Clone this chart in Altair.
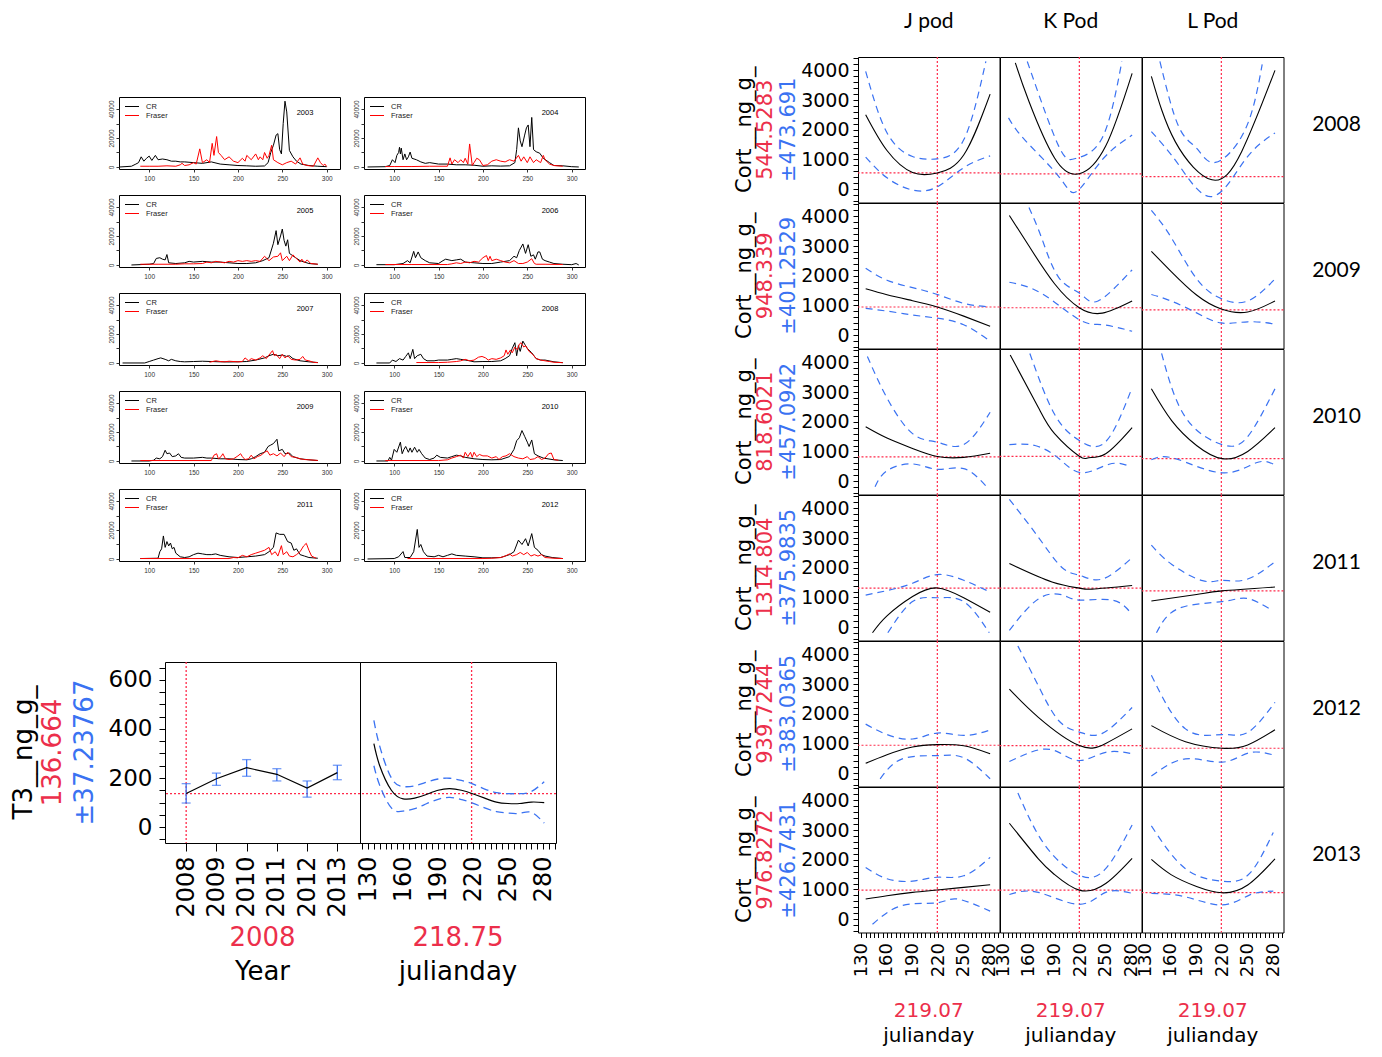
import altair as alt
import pandas as pd

RED = "#ec2f4b"
BLUE = "#3a72f2"
RED_LINE = "#ff2a4a"
FONT = "DejaVu Sans"
RFONT = "Liberation Sans"
HFONT = "Lato"

# ---------------- top-left: daily counts (CR vs Fraser) ----------------
TS_YEARS = [2003, 2004, 2005, 2006, 2007, 2008, 2009, 2010, 2011, 2012]
TS_XTICKS = [100, 150, 200, 250, 300]
TS_YTICKS = [0, 10000, 20000, 30000, 40000]
TS_XDOM = [66, 315]
TS_YDOM = [-1400, 48300]

CR_2003 = [(67,0),(80,500),(85,2000),(88,3000),(91,7000),(94,4000),(97,6000),(100,7500),(103,4500),(107,8000),(110,5000),(115,5500),(120,5000),(125,4000),(130,4000),(135,3500),(140,3500),(150,3000),(160,2500),(170,3500),(180,2000),(190,1500),(200,1000),(210,800),(220,500),(230,700),(234,3000),(237,10000),(240,15000),(243,22000),(245,23000),(247,12000),(249,9000),(251,30000),(253,45400),(255,38000),(258,11400),(262,7000),(266,4000),(271,2000),(280,1000),(290,500),(300,200)]
FR_2003 = [(90,500),(100,500),(110,500),(120,800),(130,500),(135,1500),(137,2500),(140,1000),(145,1500),(150,3000),(153,2000),(157,12500),(160,3000),(165,5000),(168,3000),(171,16300),(173,8000),(176,21000),(178,10000),(181,8000),(185,5000),(190,7000),(195,4000),(200,3000),(205,6000),(208,4000),(210,8000),(215,5000),(220,9000),(223,5000),(225,7000),(228,5000),(230,10000),(233,6000),(235,8000),(238,15000),(240,5000),(245,3000),(250,1500),(255,3000),(260,4000),(265,2000),(270,6300),(273,2000),(278,1000),(285,500),(290,6300),(293,3000),(296,1000),(298,2000),(300,300)]
CR_2004 = [(70,0),(90,200),(95,1000),(98,5000),(101,3000),(103,8000),(105,10000),(106,13600),(107,9000),(108,13000),(110,5000),(112,9000),(114,5000),(116,7000),(118,10300),(120,6000),(125,5000),(130,3500),(135,2500),(140,3000),(150,2000),(160,2000),(170,1500),(180,1500),(190,1200),(200,500),(210,800),(220,600),(230,800),(236,3000),(238,12000),(240,27000),(242,18000),(244,14000),(247,22000),(249,27000),(251,29000),(253,14000),(255,34200),(257,12000),(260,10500),(264,9500),(268,6000),(275,3000),(280,1000),(290,800),(300,200),(308,0)]
FR_2004 = [(90,300),(100,300),(120,300),(140,500),(160,500),(163,6300),(165,2000),(168,5000),(172,3000),(175,5000),(178,3000),(180,6000),(183,2000),(185,15900),(188,1000),(190,3000),(193,6000),(196,5000),(200,1000),(205,1500),(210,4000),(215,5000),(220,4000),(225,3500),(230,5000),(235,4000),(240,8000),(243,4000),(246,7000),(250,3000),(253,7000),(257,3000),(260,5000),(265,3000),(268,8000),(270,5000),(275,2000),(280,1000),(290,500)]
CR_2005 = [(80,0),(100,500),(105,1000),(108,4500),(112,5000),(115,4000),(118,3500),(120,7200),(122,1500),(130,1000),(140,1500),(145,2500),(150,2000),(160,2500),(170,2000),(180,2000),(190,1500),(200,1000),(210,1000),(220,1500),(228,3000),(235,5000),(240,15000),(243,23700),(245,14000),(248,20000),(250,24800),(252,17000),(254,13000),(256,17400),(258,8000),(265,5000),(270,3000),(280,1000),(290,500)]
FR_2005 = [(90,500),(110,500),(130,500),(140,800),(150,800),(160,1000),(165,2000),(170,1500),(175,2500),(180,2000),(185,1500),(190,2500),(195,2000),(200,3000),(205,2500),(210,3000),(215,2500),(220,3000),(225,2500),(230,6000),(235,3000),(240,5500),(245,6000),(248,8400),(250,3000),(255,6000),(258,3000),(262,7000),(265,5000),(270,2000),(272,4000),(275,1500),(278,3500),(282,1000),(290,500)]
CR_2006 = [(80,200),(100,200),(110,1000),(115,3000),(118,1500),(122,9400),(124,5000),(127,9000),(130,5000),(135,3000),(140,1500),(150,1000),(155,3000),(158,4000),(165,3000),(170,3500),(175,4000),(180,2000),(190,1500),(200,1000),(210,1000),(220,2000),(230,3000),(235,6000),(238,5000),(241,10000),(245,14500),(248,8000),(251,14000),(254,6000),(257,7000),(259,4000),(262,9000),(264,9000),(267,4000),(270,3000),(275,2000),(280,1000),(290,500),(300,200),(305,1000),(308,0)]
FR_2006 = [(90,300),(120,300),(160,300),(165,800),(170,1500),(175,1000),(180,2000),(185,1500),(190,2500),(195,2000),(200,5000),(204,6500),(206,3000),(208,6000),(210,3000),(215,4000),(220,3000),(225,2000),(230,1500),(235,3000),(240,1000),(245,1000),(250,2000),(255,4300),(258,1000),(260,500),(270,500),(290,300)]
CR_2007 = [(70,0),(95,0),(100,1000),(105,2000),(110,3000),(113,3500),(118,2500),(122,1500),(125,2500),(130,1500),(135,1000),(140,800),(150,1000),(160,1200),(170,1000),(180,800),(190,700),(200,800),(210,1000),(220,2000),(230,3500),(235,5000),(240,6000),(245,5000),(250,5500),(255,4500),(258,5000),(262,3000),(270,1500),(280,800),(290,300)]
FR_2007 = [(168,500),(175,1500),(180,1000),(185,800),(190,1200),(200,800),(205,1000),(208,3500),(212,1500),(215,3000),(220,2000),(225,3500),(228,5000),(232,3000),(235,5500),(239,8500),(241,5000),(243,6000),(247,3000),(250,6000),(253,3500),(256,5000),(260,2500),(265,2000),(270,2500),(273,4500),(276,2000),(280,1500),(285,500),(290,200)]
CR_2008 = [(80,0),(95,0),(98,2000),(102,1000),(106,3000),(110,2000),(113,4500),(116,7000),(118,3000),(121,9400),(123,3000),(126,5000),(130,6000),(133,3000),(137,1500),(145,1500),(150,2000),(160,2000),(165,2500),(170,3000),(175,2500),(180,2000),(185,1500),(190,800),(200,1000),(210,1000),(220,1500),(225,3000),(230,5000),(233,10000),(236,14000),(238,5000),(240,12000),(242,8000),(245,15100),(247,13000),(250,10000),(255,7000),(260,3000),(265,2000),(270,2000),(280,800),(290,200)]
FR_2008 = [(125,300),(150,300),(160,500),(170,1000),(175,1500),(180,2500),(185,1500),(190,2000),(195,4000),(199,4500),(203,3500),(206,2000),(210,3000),(215,2500),(220,3500),(224,5000),(226,9000),(228,6000),(231,9000),(233,7000),(236,11000),(239,9000),(241,13000),(243,14000),(246,11000),(248,12000),(252,8000),(256,6000),(260,3000),(265,2000),(270,1500),(275,1000),(280,500),(290,200)]
CR_2009 = [(80,0),(100,0),(105,500),(108,2000),(112,1500),(115,3000),(118,7400),(120,5000),(123,5500),(126,3000),(130,3500),(133,5000),(136,2500),(140,2000),(150,2000),(160,2500),(165,2000),(170,2000),(180,1500),(190,1500),(200,1000),(210,800),(215,1500),(220,3000),(225,5000),(230,6000),(234,10000),(237,11000),(240,12000),(244,15000),(246,7000),(250,8000),(253,5000),(258,5500),(262,3000),(270,1500),(280,800),(290,300)]
FR_2009 = [(90,300),(170,300),(173,4000),(176,5000),(178,1500),(181,3000),(183,5000),(186,1500),(190,1000),(195,1500),(200,3500),(203,5000),(205,3000),(208,1000),(212,1500),(215,4000),(218,1500),(222,3000),(226,4000),(230,6000),(233,7000),(236,4000),(240,5000),(244,3500),(248,5500),(252,3000),(256,6000),(260,3000),(265,2500),(270,1500),(275,1000),(280,800),(290,400)]
CR_2010 = [(80,0),(93,0),(95,2500),(97,500),(100,8000),(103,6000),(107,13000),(109,5000),(111,8000),(113,10000),(116,6000),(118,9000),(120,6000),(123,9500),(126,6000),(128,8000),(131,5000),(135,2000),(140,1000),(145,2000),(148,4000),(152,2500),(160,2000),(165,3000),(170,4000),(175,3500),(180,2500),(190,1500),(200,1000),(210,800),(220,1000),(225,2000),(230,3000),(235,8000),(238,14000),(241,16000),(244,21000),(247,17000),(250,13000),(252,10000),(255,14500),(258,5000),(262,3500),(268,2000),(280,800),(290,300)]
FR_2010 = [(90,300),(150,300),(160,800),(165,2000),(170,3000),(175,4000),(178,2000),(180,6000),(183,3000),(186,6000),(188,2500),(190,6000),(193,3000),(196,4500),(200,3500),(205,3500),(210,2000),(215,3000),(218,1000),(222,3000),(226,3500),(230,5000),(235,3000),(240,2000),(245,1500),(250,3000),(253,1000),(258,1500),(262,3000),(266,1000),(270,2000),(274,5000),(277,5500),(280,1000),(285,500)]
CR_2011 = [(90,300),(110,500),(112,5000),(114,7000),(116,15900),(118,8000),(120,12000),(122,9000),(124,11000),(126,7000),(128,8000),(130,4000),(135,1500),(140,1000),(145,1500),(150,3000),(155,4000),(160,3500),(165,3000),(170,3000),(175,3500),(180,2500),(190,1500),(200,1000),(210,1500),(220,2000),(230,3000),(235,5000),(240,8000),(243,18000),(247,17000),(252,17000),(256,12000),(260,11000),(263,6000),(266,7000),(270,3000),(275,2000),(280,1000),(290,500)]
FR_2011 = [(90,300),(190,300),(195,1000),(200,800),(205,2500),(210,1500),(215,3000),(220,4000),(225,5000),(230,6000),(235,8000),(238,3000),(242,5000),(245,2000),(249,9200),(251,3000),(255,5000),(258,2000),(262,1500),(266,3000),(270,5000),(274,9000),(277,10800),(280,6000),(283,2000),(288,500)]
CR_2012 = [(70,0),(100,300),(105,1500),(110,5100),(112,1000),(118,1000),(122,5000),(126,20400),(128,8000),(130,10000),(133,5000),(137,2000),(145,1500),(150,2500),(155,1500),(160,2500),(165,3500),(170,2500),(180,2000),(190,1500),(200,800),(210,800),(220,1000),(230,3000),(235,5000),(240,13000),(244,10000),(248,14000),(251,9000),(255,17500),(258,8000),(262,6000),(266,3000),(270,2000),(278,1000),(290,300)]
FR_2012 = [(115,300),(200,300),(210,500),(220,1000),(225,2000),(230,3500),(233,2000),(238,3000),(242,4500),(246,3000),(250,4500),(254,2000),(258,3000),(262,2000),(266,3000),(270,1000),(280,500),(290,300)]

CR_SERIES = [CR_2003, CR_2004, CR_2005, CR_2006, CR_2007, CR_2008, CR_2009, CR_2010, CR_2011, CR_2012]
FR_SERIES = [FR_2003, FR_2004, FR_2005, FR_2006, FR_2007, FR_2008, FR_2009, FR_2010, FR_2011, FR_2012]

# ---------------- bottom-left: T3 profiler ----------------
PROF_YEARS = [2008, 2009, 2010, 2011, 2012, 2013]
PROF_YEAR_MEAN = [136.664, 197, 242, 215, 159, 222]
PROF_YEAR_LO = [98, 170, 207, 188, 122, 193]
PROF_YEAR_HI = [177, 220, 275, 238, 188, 252]
PROF_DAYS = [135, 140, 150, 160, 170, 180, 190, 200, 210, 219, 230, 240, 250, 260, 270, 281]
PROF_MEAN = [340, 250, 150, 115, 118, 133, 150, 157, 150, 137, 118, 102, 96, 96, 102, 100]
PROF_UPPER = [435, 330, 200, 165, 168, 183, 196, 199, 190, 177, 155, 140, 136, 136, 145, 185]
PROF_LOWER = [250, 170, 78, 65, 75, 95, 113, 121, 112, 99, 78, 63, 57, 56, 60, 16]
PROF_HLINE = 136.664
PROF_YEAR_CUR = 2008
PROF_DAY_CUR = 218.75
PROF_YDOM = [-65, 673]
PROF_YEAR_XDOM = [2007.3, 2013.75]
PROF_DAY_XDOM = [123.1, 291.1]

# ---------------- right: Cort profiler grid (visible part of each curve) ----------------
PODS = ["J pod", "K Pod", "L Pod"]
GRID_YEARS = ["2008", "2009", "2010", "2011", "2012", "2013"]
ROW_MEAN_TXT = ["544.5283", "948.339", "818.6021", "1314.804", "939.7244", "976.8272"]
ROW_SE_TXT = ["±473.691", "±401.2529", "±457.0942", "±375.9835", "±383.0365", "±426.7431"]
GRID_DAY_CUR = 219.07
GRID_XDOM = [126, 292]
GRID_YDOM = [-450, 4450]

J_MEAN = [
    [(135,2506),(160,1300),(190,560),(219,545),(250,1150),(281,3200)],
    [(135,1560),(160,1360),(190,1160),(219,948),(250,640),(281,300)],
    [(135,1830),(160,1450),(190,1100),(219,830),(250,800),(281,940)],
    [(143,-190),(160,380),(190,1030),(219,1320),(250,990),(281,500)],
    [(135,330),(160,620),(190,880),(219,960),(250,920),(281,650)],
    [(135,680),(160,790),(190,900),(219,980),(250,1070),(281,1160)],
]
J_UPPER = [
    [(135,3966),(160,1900),(190,1100),(219,1020),(250,1660),(276,4300)],
    [(135,2250),(160,1850),(190,1600),(219,1370),(250,1070),(281,950)],
    [(137,4200),(160,2800),(190,1600),(219,1310),(250,1230),(281,2320)],
    [(135,1080),(160,1230),(190,1480),(219,1770),(250,1580),(281,1180)],
    [(135,1650),(160,1300),(190,1150),(219,1350),(250,1270),(281,1450)],
    [(135,1740),(160,1360),(190,1280),(219,1410),(250,1460),(281,2080)],
]
J_LOWER = [
    [(135,1080),(160,380),(190,-30),(219,80),(250,720),(281,1120)],
    [(135,900),(160,810),(190,680),(219,570),(250,350),(281,-200)],
    [(146,-190),(160,350),(190,580),(219,400),(250,420),(277,-190)],
    [(161,-190),(190,860),(219,990),(250,860),(280,-190)],
    [(152,-190),(178,480),(219,590),(250,520),(281,-190)],
    [(143,-170),(178,460),(219,550),(242,680),(281,270)],
]
J_HLINE = [544.5, 948.3, 818.6, 1314.8, 939.7, 976.8]

K_MEAN = [
    [(144,4250),(160,2950),(190,1050),(219,516),(250,1450),(281,3900)],
    [(137,4030),(160,3000),(190,1730),(219,923),(246,740),(281,1150)],
    [(138,4250),(171,2480),(190,1600),(219,840),(230,790),(250,920),(281,1800)],
    [(137,2140),(187,1520),(219,1315),(234,1280),(281,1400)],
    [(137,2830),(171,1880),(219,928),(250,1000),(281,1490)],
    [(137,3230),(171,2030),(190,1500),(219,977),(250,1200),(281,2050)],
]
K_UPPER = [
    [(158,4300),(195,1440),(216,1045),(246,1730),(269,4300)],
    [(160,4300),(175,3260),(195,1940),(220,1400),(241,1150),(281,2200)],
    [(161,4300),(190,2250),(219,1370),(250,1330),(281,3150)],
    [(137,4300),(171,3030),(199,2000),(220,1740),(246,1620),(281,2340)],
    [(147,4280),(171,2940),(195,1765),(220,1375),(246,1340),(281,2210)],
    [(147,4250),(179,2480),(219,1477),(250,1700),(281,3170)],
]
K_LOWER = [
    [(136,2400),(155,1660),(195,425),(216,-80),(246,990),(281,1820)],
    [(137,1780),(175,1400),(219,520),(246,350),(281,130)],
    [(137,1230),(167,1200),(195,760),(222,280),(254,570),(277,510)],
    [(137,-110),(171,950),(199,1085),(220,910),(258,910),(281,420)],
    [(137,390),(171,780),(195,700),(220,425),(250,700),(281,650)],
    [(137,830),(171,900),(219,500),(250,900),(281,870)],
]
K_HLINE = [516, 923, 833, 1315, 928, 977]

L_MEAN = [
    [(137,3800),(165,1600),(208,314),(243,1270),(282,4000)],
    [(137,2820),(160,2150),(190,1350),(219,880),(250,780),(282,1150)],
    [(137,3110),(161,2030),(190,1200),(220,757),(250,1000),(282,1800)],
    [(137,880),(190,1100),(220,1220),(282,1350)],
    [(137,1600),(177,1060),(220,838),(250,950),(282,1460)],
    [(137,2010),(160,1500),(190,1100),(220,887),(250,1150),(282,2030)],
]
L_UPPER = [
    [(147,4300),(169,2110),(190,1380),(212,900),(247,2000),(267,4200)],
    [(137,4200),(160,3300),(190,1900),(219,1230),(250,1150),(282,1890)],
    [(149,4300),(177,2150),(220,1230),(250,1500),(282,3110)],
    [(137,2760),(161,2110),(197,1565),(220,1575),(248,1600),(282,2200)],
    [(137,3300),(177,1490),(220,1300),(250,1370),(282,2380)],
    [(137,3140),(177,1700),(220,1277),(252,1530),(280,2920)],
]
L_LOWER = [
    [(137,1940),(169,820),(208,-250),(247,990),(282,1890)],
    [(137,1370),(160,1150),(190,750),(219,410),(250,450),(281,380)],
    [(137,720),(165,760),(220,280),(260,620),(281,560)],
    [(143,-190),(169,630),(220,860),(249,970),(277,595)],
    [(137,-100),(177,480),(220,370),(251,680),(280,615)],
    [(137,867),(177,750),(220,477),(252,810),(280,943)],
]
L_HLINE = [420, 850, 755, 1223, 838, 895]

POD_MEAN = [J_MEAN, K_MEAN, L_MEAN]
POD_UPPER = [J_UPPER, K_UPPER, L_UPPER]
POD_LOWER = [J_LOWER, K_LOWER, L_LOWER]
POD_HLINE = [J_HLINE, K_HLINE, L_HLINE]


# ---------------- helpers ----------------
def text_layer(txt, x, y, size, color="black", font=FONT, angle=0, align="center", baseline="middle"):
    kw = dict(fontSize=size, color=color, font=font, align=align, baseline=baseline)
    if angle:
        kw["angle"] = angle
    return alt.Chart(pd.DataFrame({"t": [txt]})).mark_text(**kw).encode(
        text="t:N", x=alt.value(x), y=alt.value(y))


def spacer(w, h):
    return alt.Chart(pd.DataFrame({"t": [0]})).mark_point(size=0, opacity=0).properties(
        width=w, height=h, view=alt.ViewBackground(strokeOpacity=0))


def curve_df(days, vals):
    return pd.DataFrame({"day": days, "val": vals})


def pairs_df(pairs):
    return pd.DataFrame({"day": [p[0] for p in pairs], "val": [p[1] for p in pairs]})


# ---------------- daily count panels ----------------
TS_W, TS_H = 221, 72


def ts_panel(year, cr, fr):
    rows = [{"day": d, "count": v, "river": "CR"} for d, v in cr] + \
           [{"day": d, "count": v, "river": "Fraser"} for d, v in fr]
    df = pd.DataFrame(rows)
    lines = alt.Chart(df).mark_line(strokeWidth=1).encode(
        x=alt.X("day:Q", title=None, scale=alt.Scale(domain=TS_XDOM, nice=False, zero=False),
                axis=alt.Axis(values=TS_XTICKS, format="d", labelFontSize=6.5, labelFont=RFONT,
                              labelColor="#333", tickColor="#333", tickSize=3, labelPadding=3,
                              domain=False, grid=False, labelFlush=False)),
        y=alt.Y("count:Q", title=None, scale=alt.Scale(domain=TS_YDOM, nice=False, zero=False),
                axis=alt.Axis(values=TS_YTICKS, format="d",
                              labelExpr="datum.value % 20000 === 0 ? datum.label : ''",
                              labelAngle=270, labelAlign="center", labelBaseline="bottom",
                              labelFontSize=6.5, labelFont=RFONT, labelColor="#333", tickColor="#333",
                              tickSize=3, labelPadding=2, domain=False, grid=False,
                              labelOverlap=False, labelFlush=False)),
        color=alt.Color("river:N", scale=alt.Scale(domain=["CR", "Fraser"], range=["black", "#ff0000"]),
                        legend=alt.Legend(title=None, orient="top-left", symbolType="stroke",
                                          symbolStrokeWidth=1.2, symbolSize=196, clipHeight=9,
                                          labelFontSize=7.5, labelFont=RFONT, labelColor="#222",
                                          rowPadding=0, padding=2, offset=3, labelOffset=6)),
    )
    label = text_layer(str(year), 186, 16, 7.5, font=RFONT)
    return alt.layer(lines, label).properties(width=TS_W, height=TS_H)


ts_panels = [ts_panel(y, c, f) for y, c, f in zip(TS_YEARS, CR_SERIES, FR_SERIES)]
ts_grid = alt.concat(*ts_panels, columns=2, spacing={"row": 26, "column": 24}, bounds="flush") \
    .resolve_scale(color="independent").resolve_legend(color="independent")

# ---------------- T3 profiler ----------------
PW_Y, PW_D, PH = 195, 196, 181
prof_yscale = alt.Scale(domain=PROF_YDOM, nice=False, zero=False)
prof_yaxis = alt.Axis(values=list(range(-50, 651, 50)), format="d",
                      labelExpr="datum.value % 200 === 0 ? datum.label : ''",
                      labelFontSize=23, labelFont=FONT, labelColor="black", tickColor="black",
                      tickSize=6, labelPadding=7, domain=False, grid=False, labelOverlap=False,
                      labelFlush=False)


def py(field, axis):
    return alt.Y(f"{field}:Q", title=None, scale=prof_yscale, axis=axis)


xscale_year = alt.Scale(domain=PROF_YEAR_XDOM, nice=False, zero=False)
year_axis = alt.Axis(values=PROF_YEARS, format="d", labelAngle=270, labelAlign="right", labelBaseline="middle",
                     labelFontSize=24, labelFont=FONT, labelColor="black", tickColor="black", tickSize=8,
                     labelPadding=5, domain=False, grid=False, labelOverlap=False, labelFlush=False)


def pxy():
    return alt.X("year:Q", title=None, scale=xscale_year, axis=year_axis)


ydf = pd.DataFrame({"year": PROF_YEARS, "val": PROF_YEAR_MEAN, "lo": PROF_YEAR_LO, "hi": PROF_YEAR_HI})
year_panel = alt.layer(
    alt.Chart(pd.DataFrame({"val": [PROF_HLINE]})).mark_rule(color=RED_LINE, strokeDash=[2, 2], strokeWidth=1.3)
    .encode(y=py("val", prof_yaxis)),
    alt.Chart(pd.DataFrame({"year": [PROF_YEAR_CUR]})).mark_rule(color=RED_LINE, strokeDash=[2, 2], strokeWidth=1.3)
    .encode(x=pxy()),
    alt.Chart(ydf).mark_rule(color=BLUE, strokeWidth=1.3).encode(x=pxy(), y=py("lo", prof_yaxis), y2="hi:Q"),
    alt.Chart(ydf).mark_tick(color=BLUE, orient="horizontal", size=9, thickness=1.3).encode(x=pxy(), y=py("lo", prof_yaxis)),
    alt.Chart(ydf).mark_tick(color=BLUE, orient="horizontal", size=9, thickness=1.3).encode(x=pxy(), y=py("hi", prof_yaxis)),
    alt.Chart(ydf).mark_line(color="black", strokeWidth=1.2).encode(x=pxy(), y=py("val", prof_yaxis)),
    text_layer("T3__ng_g_", -141, PH / 2, 26, angle=270),
    text_layer("136.664", -112, PH / 2, 26, color=RED, angle=270),
    text_layer("±37.23767", -80, PH / 2, 26, color=BLUE, angle=270),
    text_layer("2008", PW_Y / 2, PH + 95, 26, color=RED),
    text_layer("Year", PW_Y / 2, PH + 129, 26),
).properties(width=PW_Y, height=PH)

day_scale_p = alt.Scale(domain=PROF_DAY_XDOM, nice=False, zero=False)
day_axis_p = alt.Axis(values=list(range(125, 291, 5)), format="d",
                      labelExpr="(datum.value - 130) % 30 === 0 ? datum.label : ''",
                      labelAngle=270, labelAlign="right", labelBaseline="middle",
                      labelFontSize=24, labelFont=FONT, labelColor="black", tickColor="black",
                      tickSize=6, labelPadding=7, domain=False, grid=False, labelOverlap=False,
                      labelFlush=False)


def pxd():
    return alt.X("day:Q", title=None, scale=day_scale_p, axis=day_axis_p)


day_panel = alt.layer(
    alt.Chart(pd.DataFrame({"val": [PROF_HLINE]})).mark_rule(color=RED_LINE, strokeDash=[2, 2], strokeWidth=1.3)
    .encode(y=py("val", None)),
    alt.Chart(pd.DataFrame({"day": [PROF_DAY_CUR]})).mark_rule(color=RED_LINE, strokeDash=[2, 2], strokeWidth=1.3)
    .encode(x=pxd()),
    alt.Chart(curve_df(PROF_DAYS, PROF_UPPER)).mark_line(color=BLUE, strokeDash=[8, 5], strokeWidth=1.3,
                                                         interpolate="natural")
    .encode(x=pxd(), y=py("val", None)),
    alt.Chart(curve_df(PROF_DAYS, PROF_LOWER)).mark_line(color=BLUE, strokeDash=[8, 5], strokeWidth=1.3,
                                                         interpolate="natural")
    .encode(x=pxd(), y=py("val", None)),
    alt.Chart(curve_df(PROF_DAYS, PROF_MEAN)).mark_line(color="black", strokeWidth=1.2,
                                                        interpolate="natural")
    .encode(x=pxd(), y=py("val", None)),
    text_layer("218.75", PW_D / 2, PH + 95, 26, color=RED),
    text_layer("julianday", PW_D / 2, PH + 129, 26),
).properties(width=PW_D, height=PH)

prof_row = alt.hconcat(spacer(157, 1), year_panel, day_panel, spacing=0, bounds="flush")

# ---------------- Cort grid ----------------
GW, GH = 141.5, 145.5
g_xscale = alt.Scale(domain=GRID_XDOM, nice=False, zero=False)
g_yscale = alt.Scale(domain=GRID_YDOM, nice=False, zero=False)
g_xaxis = alt.Axis(values=list(range(125, 291, 5)), format="d",
                   labelExpr="(datum.value - 130) % 30 === 0 ? datum.label : ''",
                   labelAngle=270, labelAlign="right", labelBaseline="middle",
                   labelFontSize=18, labelFont=FONT, labelColor="black", tickColor="black",
                   tickSize=5, labelPadding=5, domain=False, grid=False, labelOverlap=False,
                   labelFlush=False)
g_yaxis = alt.Axis(values=list(range(-400, 4401, 200)), format="d",
                   labelExpr="datum.value % 1000 === 0 && datum.value >= 0 ? datum.label : ''",
                   labelFontSize=19, labelFont=FONT, labelColor="black", tickColor="black",
                   tickSize=5, labelPadding=4, domain=False, grid=False, labelOverlap=False,
                   labelFlush=False)


def grid_panel(r, c):
    xa = g_xaxis if r == len(GRID_YEARS) - 1 else None
    ya = g_yaxis if c == 0 else None

    def gx():
        return alt.X("day:Q", title=None, scale=g_xscale, axis=xa)

    def gy():
        return alt.Y("val:Q", title=None, scale=g_yscale, axis=ya)

    layers = [
        alt.Chart(pd.DataFrame({"val": [POD_HLINE[c][r]]})).mark_rule(color=RED_LINE, strokeDash=[2, 2], strokeWidth=1.2)
        .encode(y=gy()),
        alt.Chart(pd.DataFrame({"day": [GRID_DAY_CUR]})).mark_rule(color=RED_LINE, strokeDash=[2, 2], strokeWidth=1.2)
        .encode(x=gx()),
        alt.Chart(pairs_df(POD_UPPER[c][r])).mark_line(color=BLUE, strokeDash=[7, 5], strokeWidth=1.2,
                                                       interpolate="natural")
        .encode(x=gx(), y=gy()),
        alt.Chart(pairs_df(POD_LOWER[c][r])).mark_line(color=BLUE, strokeDash=[7, 5], strokeWidth=1.2,
                                                       interpolate="natural")
        .encode(x=gx(), y=gy()),
        alt.Chart(pairs_df(POD_MEAN[c][r])).mark_line(color="black", strokeWidth=1.1,
                                                      interpolate="natural")
        .encode(x=gx(), y=gy()),
    ]
    if r == 0:
        layers.append(text_layer(PODS[c], GW / 2, -35, 21, font=HFONT))
    if c == 0:
        layers.append(text_layer("Cort__ng_g_", -113, GH / 2, 21, angle=270))
        layers.append(text_layer(ROW_MEAN_TXT[r], -92, GH / 2, 21, color=RED, angle=270))
        layers.append(text_layer(ROW_SE_TXT[r], -69, GH / 2, 21, color=BLUE, angle=270))
    if c == len(PODS) - 1:
        layers.append(text_layer(GRID_YEARS[r], GW + 53, GH / 2 - 5, 21, font=HFONT))
    if r == len(GRID_YEARS) - 1:
        layers.append(text_layer(str(GRID_DAY_CUR), GW / 2, GH + 78, 20, color=RED))
        layers.append(text_layer("julianday", GW / 2, GH + 103, 20))
    return alt.layer(*layers).properties(width=GW, height=GH)


grid_cells = [grid_panel(r, c) for r in range(len(GRID_YEARS)) for c in range(len(PODS))]
grid = alt.concat(*grid_cells, columns=3, spacing=0, bounds="flush")

# ---------------- assemble ----------------
left = alt.vconcat(
    spacer(1, 88),
    alt.hconcat(spacer(99, 1), ts_grid, spacing=0),
    spacer(1, 82),
    prof_row,
    spacing=0,
)
right = alt.vconcat(spacer(1, 2), grid, spacing=0)

chart = alt.hconcat(left, right, spacing=147).properties(padding=0).configure_view(
    stroke="black", strokeWidth=1)

chart.save("out.html", embed_options={"renderer": "svg", "actions": False})
